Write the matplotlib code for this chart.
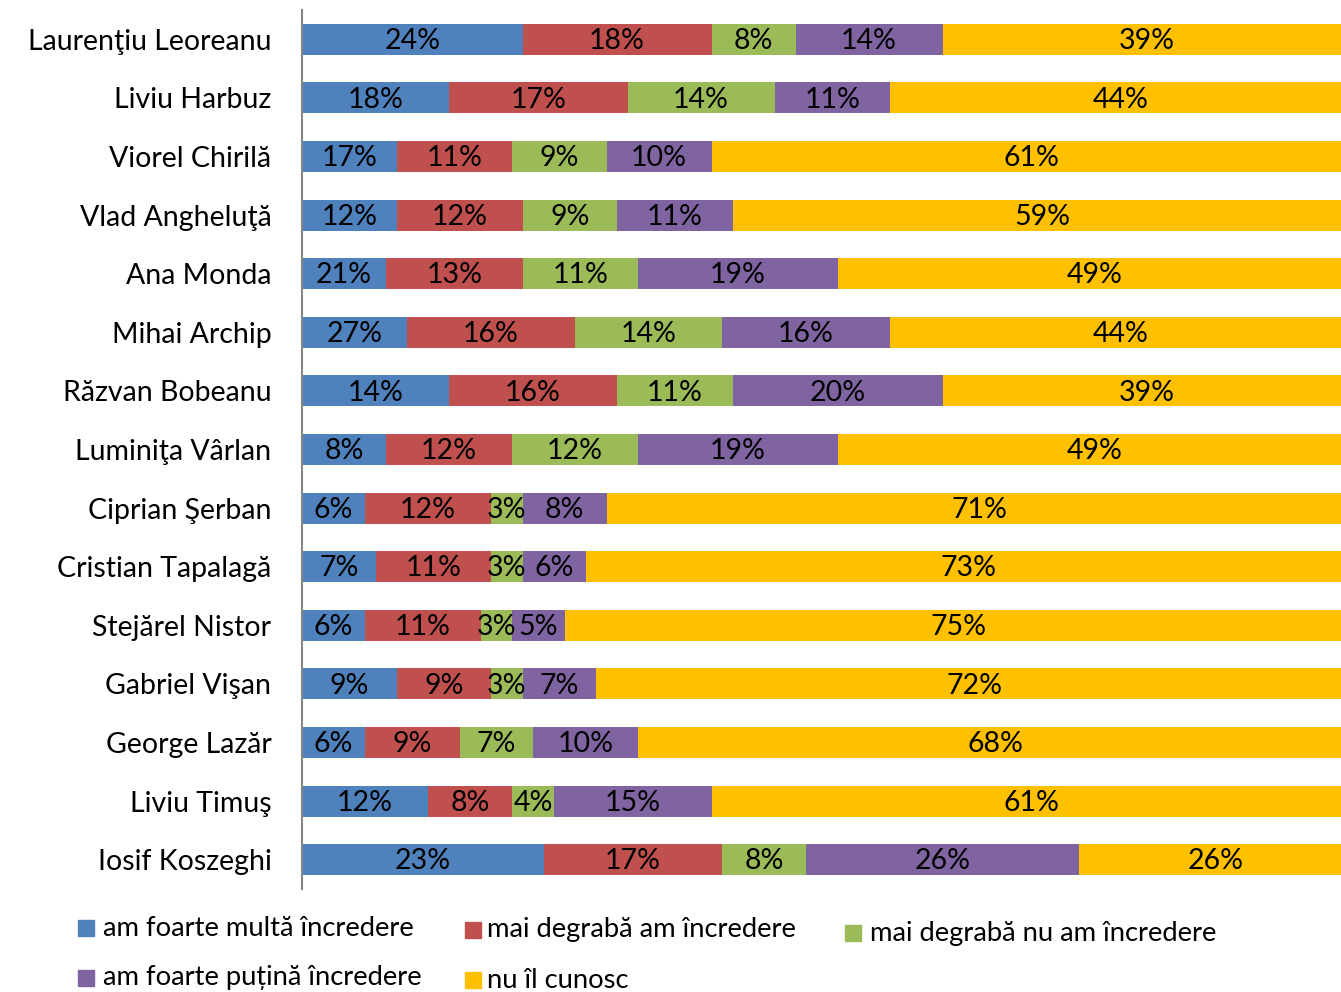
import matplotlib
matplotlib.use("Agg")
import matplotlib.pyplot as plt
from matplotlib.patches import Rectangle

plt.rcParams['font.family'] = ['Lato', 'DejaVu Sans']

names = ["Laurenţiu Leoreanu", "Liviu Harbuz", "Viorel Chirilă", "Vlad Angheluţă",
         "Ana Monda", "Mihai Archip", "Răzvan Bobeanu", "Luminiţa Vârlan",
         "Ciprian Şerban", "Cristian Tapalagă", "Stejărel Nistor", "Gabriel Vişan",
         "George Lazăr", "Liviu Timuş", "Iosif Koszeghi"]

series_names = ["am foarte multă încredere", "mai degrabă am încredere",
                "mai degrabă nu am încredere", "am foarte puțină încredere", "nu îl cunosc"]

# bar lengths as drawn (percent)
foarte_multa = [21, 14, 9, 9, 8, 10, 14, 8, 6, 7, 6, 9, 6, 12, 23]
degraba_am = [18, 17, 11, 12, 13, 16, 16, 12, 12, 11, 11, 9, 9, 8, 17]
degraba_nu = [8, 14, 9, 9, 11, 14, 11, 12, 3, 3, 3, 3, 7, 4, 8]
foarte_putina = [14, 11, 10, 11, 19, 16, 20, 19, 8, 6, 5, 7, 10, 15, 26]
nu_cunosc = [39, 44, 61, 59, 49, 44, 39, 49, 71, 73, 75, 72, 68, 61, 26]

# labels shown on the first segment (differ from bar lengths in the top rows)
foarte_multa_labels = [24, 18, 17, 12, 21, 27, 14, 8, 6, 7, 6, 9, 6, 12, 23]

colors = ["#4F81BD", "#C0504D", "#9BBB59", "#8064A2", "#FFC000"]

W, H = 1341, 992
fig = plt.figure(figsize=(W / 100, H / 100), dpi=100)
ax = fig.add_axes([302 / W, 1 - 889 / H, 1050 / W, 879 / H])

series = [foarte_multa, degraba_am, degraba_nu, foarte_putina, nu_cunosc]
labels = [foarte_multa_labels, degraba_am, degraba_nu, foarte_putina, nu_cunosc]
y = list(range(len(names)))
left = [0] * len(names)
for vals, labs, col in zip(series, labels, colors):
    ax.barh(y, vals, left=left, height=0.53, color=col, edgecolor='none')
    for i, (v, l) in enumerate(zip(vals, labs)):
        ax.text(left[i] + v / 2, i + 0.03, f"{l}%", ha='center', va='center',
                fontsize=20.5, color='black')
    left = [a + b for a, b in zip(left, vals)]

ax.set_xlim(0, 100)
ax.set_ylim(len(names) - 0.5, -0.5)
ax.set_yticks(y)
ax.set_yticklabels(names, fontsize=20.5)
ax.tick_params(axis='y', length=0, pad=22)
ax.set_xticks([])
for s in ['top', 'right', 'bottom']:
    ax.spines[s].set_visible(False)
ax.spines['left'].set_color('#868686')
ax.spines['left'].set_linewidth(1.5)

# legend (manual placement)
leg_pos = [(78, 103, 928), (465, 487, 930), (845, 870, 933), (78, 103, 978), (465, 487, 980)]
for (sx, tx, cy), name, col in zip(leg_pos, series_names, colors):
    fig.patches.append(Rectangle((sx / W, 1 - (cy + 8) / H), 16 / W, 16 / H,
                                 transform=fig.transFigure, color=col))
    fig.text(tx / W, 1 - cy / H, name, ha='left', va='center', fontsize=19.7)

fig.savefig("out.png", dpi=100)
